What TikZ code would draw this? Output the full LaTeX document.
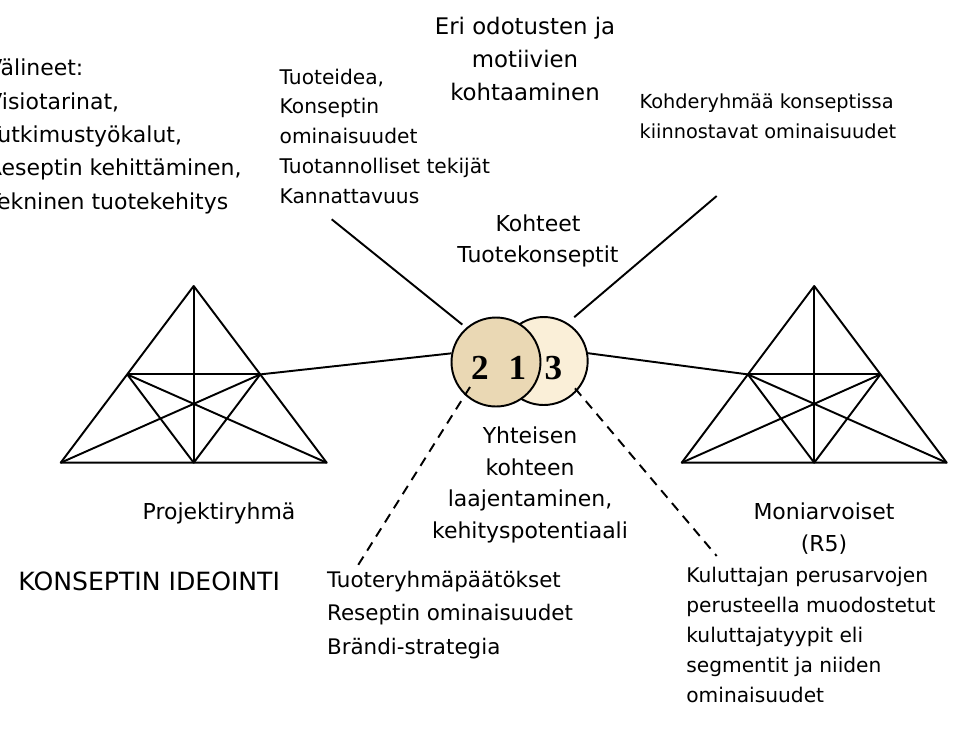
\documentclass[tikz,border=0pt]{standalone}
\usepackage{fontspec}
\setmainfont{DejaVu Sans}
\newfontfamily\numfont{Liberation Serif}
\usepackage{tikz}

\definecolor{tanleft}{HTML}{EAD8B4}
\definecolor{tanright}{HTML}{FAEFD8}

\begin{document}
\begin{tikzpicture}[x=0.02cm, y=-0.02cm,
  txt/.style={inner sep=0pt, align=left, font=\fontsize{11.5}{17}\selectfont},
  midtxt/.style={inner sep=0pt, align=center, font=\fontsize{12.5}{18}\selectfont},
  tri/.style={line width=1.1pt, line join=round},
  link/.style={line width=1.1pt},
  dlink/.style={line width=1.1pt, dash pattern=on 5.5pt off 4pt},
  ring/.style={circle, draw, line width=1.1pt, inner sep=0pt},
  num/.style={inner sep=0pt, font=\numfont\bfseries\fontsize{20}{20}\selectfont}]
\clip (0,0) rectangle (961,728);
% left triangle
\coordinate (A1) at (193.7,286);
\coordinate (B1) at (60.7,462.7);
\coordinate (C1) at (326.7,462.7);
\coordinate (L1) at (127.2,374.4);
\coordinate (R1) at (260.2,374.4);
\coordinate (D1) at (193.7,462.7);
\draw[tri] (A1) -- (B1) -- (C1) -- cycle;
\draw[tri] (L1) -- (R1);
\draw[tri] (A1) -- (D1);
\draw[tri] (L1) -- (D1) -- (R1);
\draw[tri] (L1) -- (C1);
\draw[tri] (R1) -- (B1);
% right triangle
\coordinate (A2) at (814.2,286);
\coordinate (B2) at (681.7,462.7);
\coordinate (C2) at (946.7,462.7);
\coordinate (L2) at (747.9,374.4);
\coordinate (R2) at (880.4,374.4);
\coordinate (D2) at (814.2,462.7);
\draw[tri] (A2) -- (B2) -- (C2) -- cycle;
\draw[tri] (L2) -- (R2);
\draw[tri] (A2) -- (D2);
\draw[tri] (L2) -- (D2) -- (R2);
\draw[tri] (L2) -- (C2);
\draw[tri] (R2) -- (B2);
% circles
\node[ring, fill=tanright, minimum size=1.76cm] (c3) at (543.7,361) {};
\node[ring, fill=tanleft, minimum size=1.78cm] (c2) at (496,362) {};
\node[num] (n2) at (480,368) {2};
\node[num] (n1) at (517.3,368) {1};
\node[num] (n3) at (553.3,368) {3};
% free ends
\coordinate (tl) at (331.7,219.3);
\coordinate (tr) at (716.7,196);
\coordinate (bl0) at (470,387);
\coordinate (bl) at (356.7,567.3);
\coordinate (br0) at (575,388.3);
\coordinate (br) at (716.7,556);
\draw[link] (R1) -- (c2.169);
\draw[link] (L2) -- (c3.10);
\draw[link, shorten >=2.8pt] (tl) -- (c2.131);
\draw[link, shorten >=5pt] (tr) -- (c3.58);
\draw[dlink] (bl0) -- (bl);
\draw[dlink] (br0) -- (br);
% texts
\node[midtxt, anchor=west, align=left, font=\fontsize{12.5}{19}\selectfont] (tools) at (-13,136.5)
  {Välineet:\\Visiotarinat,\\Tutkimustyökalut,\\Reseptin kehittäminen,\\Tekninen tuotekehitys};
\node[txt, anchor=west] (idea) at (279.3,136.3)
  {Tuoteidea,\\Konseptin\\ominaisuudet\\Tuotannolliset tekijät\\Kannattavuus};
\node[midtxt, font=\fontsize{13}{19}\selectfont] (motives) at (525,59)
  {Eri odotusten ja\\motiivien\\kohtaaminen};
\node[txt, anchor=west, font=\fontsize{11}{17}\selectfont] (target) at (639.3,116.7)
  {Kohderyhmää konseptissa\\kiinnostavat ominaisuudet};
\node[midtxt] (objects) at (538,240.8) {Kohteet\\Tuotekonseptit};
\node[midtxt] (shared) at (530,485)
  {Yhteisen\\kohteen\\laajentaminen,\\kehityspotentiaali};
\node[midtxt] (team) at (219,513.3) {Projektiryhmä};
\node[midtxt, font=\fontsize{14.3}{19}\selectfont] (phase) at (149.2,581.7) {KONSEPTIN IDEOINTI};
\node[midtxt, anchor=west, align=left, font=\fontsize{12.2}{19}\selectfont] (group) at (326.7,615)
  {Tuoteryhmäpäätökset\\Reseptin ominaisuudet\\Brändi-strategia};
\node[midtxt] (values) at (824,528.3) {Moniarvoiset\\(R5)};
\node[txt, anchor=west] (consumers) at (686,635)
  {Kuluttajan perusarvojen\\perusteella muodostetut\\kuluttajatyypit eli\\segmentit ja niiden\\ominaisuudet};
\end{tikzpicture}
\end{document}
